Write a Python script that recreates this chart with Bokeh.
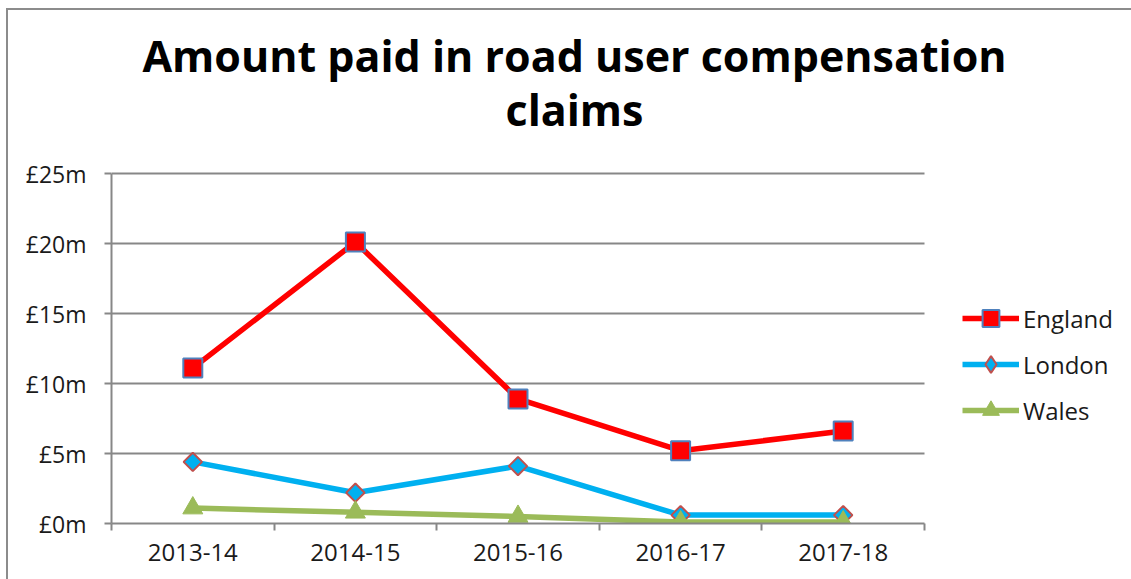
from bokeh.plotting import figure
from bokeh.models import Range1d, FixedTicker, Legend, LegendItem, Label, LinearAxis
from bokeh.embed import file_html
from bokeh.resources import INLINE

# ---- data ----
years = ["2013-14", "2014-15", "2015-16", "2016-17", "2017-18"]
england = [11.1, 20.1, 8.9, 5.2, 6.6]
london = [4.4, 2.2, 4.1, 0.6, 0.6]
wales = [1.1, 0.8, 0.5, 0.1, 0.1]
y_ticks = [0, 5, 10, 15, 20, 25]
y_tick_labels = ["£0m", "£5m", "£10m", "£15m", "£20m", "£25m"]
title_lines = ["Amount paid in road user compensation", "claims"]

# ---- layout (pixels) ----
W, H = 1131, 579
PL, PR, PT, PB = 111, 924, 173, 523   # plot area: left, right, top (max tick), bottom
n = len(years)
px_x = (PR - PL) / n
px_y = (PB - PT) / (y_ticks[-1] - y_ticks[0])
x_end = (W - PL) / px_x
y_end = PB / px_y


def X(px):
    return (px - PL) / px_x


def Y(px):
    return (PB - px) / px_y


xs = [i + 0.5 for i in range(n)]
GRAY = "#878787"
FONT = "Open Sans"
TXT = "#1a1a1a"

p = figure(width=W, height=H, x_range=Range1d(0, x_end), y_range=Range1d(0, y_end),
           output_backend="svg", toolbar_location=None,
           x_axis_type=None, y_axis_type=None,
           min_border_left=PL, min_border_right=0,
           min_border_top=0, min_border_bottom=H - PB)
p.outline_line_color = None
p.border_fill_color = None
p.background_fill_color = None
p.styles = {"background": "linear-gradient(#8c8c8c,#8c8c8c) 6px 8px / 2px 100% no-repeat, "
                          "linear-gradient(#8c8c8c,#8c8c8c) 6px 8px / 100% 2px no-repeat, #ffffff"}

# horizontal gridlines across the plot area
gy = y_ticks[1:]
p.segment(x0=[0] * len(gy), x1=[n] * len(gy), y0=gy, y1=gy,
          line_color=GRAY, line_width=2, level="underlay")

# axes
xaxis = LinearAxis(ticker=FixedTicker(ticks=xs, minor_ticks=list(range(n + 1))),
                   major_label_overrides={x: y for x, y in zip(xs, years)},
                   bounds=(0, n))
xaxis.major_tick_line_color = None
xaxis.major_tick_out = 0
xaxis.major_tick_in = 0
xaxis.minor_tick_out = 7
xaxis.minor_tick_in = 0
xaxis.minor_tick_line_color = GRAY
xaxis.minor_tick_line_width = 2
xaxis.axis_line_color = GRAY
xaxis.axis_line_width = 2
xaxis.major_label_standoff = 13
xaxis.major_label_text_font = FONT
xaxis.major_label_text_font_size = "24px"
xaxis.major_label_text_color = TXT
p.add_layout(xaxis, "below")

yaxis = LinearAxis(ticker=FixedTicker(ticks=y_ticks, minor_ticks=[]),
                   major_label_overrides={t: l for t, l in zip(y_ticks, y_tick_labels)},
                   bounds=(y_ticks[0], y_ticks[-1]))
yaxis.major_tick_out = 7
yaxis.major_tick_in = 0
yaxis.major_tick_line_color = GRAY
yaxis.major_tick_line_width = 2
yaxis.minor_tick_line_color = None
yaxis.axis_line_color = GRAY
yaxis.axis_line_width = 2
yaxis.major_label_standoff = 18
yaxis.major_label_text_font = FONT
yaxis.major_label_text_font_size = "23px"
yaxis.major_label_text_color = TXT
p.add_layout(yaxis, "left")

# series
le = p.line(xs, england, line_color="#FF0000", line_width=5.5)
se = p.scatter(xs, england, marker="square", size=19, fill_color="#FF0000",
               line_color="#4F81BD", line_width=2)
ll = p.line(xs, london, line_color="#00B0F0", line_width=5.5)
# legend key for London: zero-size in the plot (legend sizes its own keys),
# because rotated markers are drawn unrotated in legends
sl_key = p.scatter(xs, london, marker="diamond", size=0, fill_color="#00B0F0",
                   line_color="#C0504D", line_width=2)
sl = p.scatter(xs, london, marker="square", size=13, angle=0.785398,
               fill_color="#00B0F0", line_color="#C0504D", line_width=2)
lw = p.line(xs, wales, line_color="#9BBB59", line_width=5.5)
sw = p.scatter(xs, wales, marker="triangle", size=20, fill_color="#9BBB59",
               line_color="#9BBB59", line_width=1)

legend = Legend(items=[LegendItem(label="England", renderers=[le, se]),
                       LegendItem(label="London", renderers=[ll, sl_key]),
                       LegendItem(label="Wales", renderers=[lw, sw])],
                location=(962 - PL, PB - 431))
legend.glyph_width = 57
legend.glyph_height = 42
legend.label_height = 42
legend.spacing = 4
legend.label_standoff = 4
legend.padding = 0
legend.margin = 0
legend.border_line_color = None
legend.background_fill_alpha = 0
legend.label_text_font = FONT
legend.label_text_font_size = "24px"
legend.label_text_color = TXT
p.add_layout(legend, "center")

for line_text, base_px in zip(title_lines, [55, 109]):
    p.add_layout(Label(x=X(574), y=Y(base_px), text=line_text, text_align="center",
                       text_baseline="alphabetic", text_font=FONT,
                       text_font_style="bold", text_font_size="43px",
                       text_color="#000000"))

open("out.html", "w").write(file_html(p, INLINE))
